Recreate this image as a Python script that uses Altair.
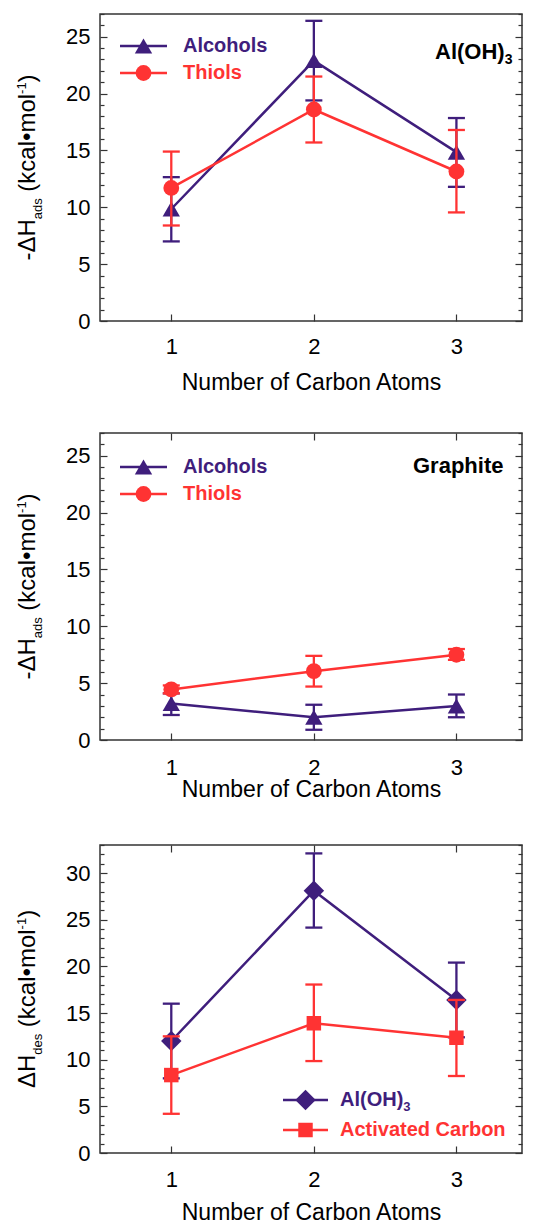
import altair as alt
import pandas as pd

FONT = "Liberation Sans"
PURPLE = "#3F1E7C"
RED = "#FF3333"
INK = "#333333"

# ---------------- data ----------------
carbon_atoms = [1, 2, 3]
x_ticks = [1, 2, 3]
x_title = "Number of Carbon Atoms"

# Panel 1: Al(OH)3, -dH_ads
p1_alcohols = [9.85, 22.9, 14.85]
p1_alcohols_lo = [7.0, 19.4, 11.8]
p1_alcohols_hi = [12.65, 26.4, 17.85]
p1_thiols = [11.7, 18.6, 13.15]
p1_thiols_lo = [8.4, 15.7, 9.55]
p1_thiols_hi = [14.9, 21.5, 16.8]

# Panel 2: Graphite, -dH_ads
p2_alcohols = [3.2, 2.0, 3.0]
p2_alcohols_lo = [2.2, 0.9, 2.0]
p2_alcohols_hi = [4.1, 3.1, 4.0]
p2_thiols = [4.45, 6.05, 7.5]
p2_thiols_lo = [4.1, 4.7, 7.05]
p2_thiols_hi = [4.8, 7.4, 8.0]

# Panel 3: dH_des
p3_aloh3 = [12.0, 28.1, 16.4]
p3_aloh3_lo = [8.0, 24.15, 12.4]
p3_aloh3_hi = [16.0, 32.1, 20.4]
p3_ac = [8.35, 13.9, 12.35]
p3_ac_lo = [4.2, 9.85, 8.25]
p3_ac_hi = [12.5, 18.05, 16.4]

# ---------------- helpers ----------------
W = 422
ONE = pd.DataFrame({"k": [0]})

# Arial / Liberation Sans advance widths (per 1000 em)
REG = {"-": 333, "Δ": 667, "H": 722, "a": 556, "d": 556, "s": 500, "e": 556,
       " ": 278, "(": 333, "k": 500, "c": 500, "l": 222, "•": 350, "m": 833,
       "o": 556, "1": 556, ")": 333}
BOLD = {"A": 722, "l": 278, "(": 333, "O": 778, "H": 722, ")": 333}


def tw(s, size, table):
    return sum(table[c] for c in s) * size / 1000.0


def frame(n, v, lo, hi, name):
    return pd.DataFrame({"n": n, "v": v, "lo": lo, "hi": hi, "s": name})


def text(t, x, y, size, color="black", bold=False, dx=0, dy=0, angle=0,
         align="left", baseline="middle"):
    kw = dict(text=t, font=FONT, fontSize=size, color=color,
              fontWeight="bold" if bold else "normal", dx=dx, dy=dy,
              align=align, baseline=baseline)
    if angle:
        kw["angle"] = angle
    return alt.Chart(ONE).mark_text(**kw).encode(x=alt.value(x), y=alt.value(y))


def ytitle(pieces, H):
    # pieces: list of (text, size, dy, gap_before)
    total = sum(tw(t, s, REG) + g for t, s, _, g in pieces)
    start = H / 2 + total / 2
    layers = []
    off = 0.0
    for t, s, dy, g in pieces:
        off += g
        layers.append(text(t, -65, start, s, dx=off, dy=dy, angle=270,
                           baseline="alphabetic"))
        off += tw(t, s, REG)
    return layers


def legend_row(label, color, shape, size, x0, x1, y, tx, tsize, sub=None):
    out = [
        alt.Chart(ONE).mark_rule(color=color, strokeWidth=2.5).encode(
            x=alt.value(x0), x2=alt.value(x1), y=alt.value(y)),
        alt.Chart(ONE).mark_point(shape=shape, size=size, filled=True,
                                  color=color, opacity=1).encode(
            x=alt.value((x0 + x1) / 2), y=alt.value(y)),
        text(label, tx, y, tsize, color=color, bold=True),
    ]
    if sub:
        out.append(text(sub, tx, y, tsize * 0.65, color=color, bold=True,
                        dx=tw(label, tsize, BOLD), dy=7))
    return out


def panel(H, ymax, series, legend_layers, tag_layers, title_layers,
          label_pad, title_pad, top_ticks):
    xs = alt.Scale(domain=[0.5, 3.46], nice=False, zero=False)
    ys = alt.Scale(domain=[0, ymax], nice=False, zero=False)
    y_major = list(range(0, ymax + 1, 5))
    y_all = list(range(0, ymax + 1))
    tsize = {"condition": {"test": "datum.value % 5 === 0", "value": 7},
             "value": 4}

    ax_x_lab = alt.Axis(orient="bottom", values=x_ticks, format="d", ticks=False,
                        tickSize=0, domain=False, grid=False, labelFont=FONT,
                        labelFontSize=22, labelColor="black",
                        labelPadding=label_pad, title=x_title, titleFont=FONT,
                        titleFontSize=23, titleFontWeight="normal",
                        titleColor="black", titlePadding=title_pad)
    ax_x_in_b = alt.Axis(orient="top", offset=-H, values=x_ticks, tickSize=7,
                         tickColor=INK, tickWidth=1.2, labels=False,
                         domain=False, grid=False, title=None)
    ax_x_in_t = alt.Axis(orient="bottom", offset=-H, values=x_ticks, tickSize=7,
                         tickColor=INK, tickWidth=1.2, labels=False,
                         domain=False, grid=False, title=None)
    ax_y_lab = alt.Axis(orient="left", values=y_major, ticks=False, tickSize=0,
                        domain=False, grid=False, labelFont=FONT,
                        labelFontSize=22, labelColor="black", labelPadding=10,
                        title=None)
    ax_y_in_l = alt.Axis(orient="right", offset=-W, values=y_all,
                         tickSize=tsize, tickColor=INK, tickWidth=1.2,
                         labels=False, domain=False, grid=False, title=None)
    ax_y_in_r = alt.Axis(orient="left", offset=-W, values=y_all,
                         tickSize=tsize, tickColor=INK, tickWidth=1.2,
                         labels=False, domain=False, grid=False, title=None)

    axes = [(ax_x_lab, ax_y_lab), (ax_x_in_b, ax_y_in_l),
            (ax_x_in_t if top_ticks else None, ax_y_in_r)]

    def ax(i):
        return axes[i] if i < len(axes) else (None, None)

    layers = []
    idx = 0
    for df, color, shape, psize in series:
        xa, ya = ax(idx)
        rule = alt.Chart(df).mark_rule(color=color, strokeWidth=2.3).encode(
            x=alt.X("n:Q", scale=xs, axis=xa),
            y=alt.Y("lo:Q", scale=ys, axis=ya), y2="hi:Q")
        idx += 1
        xa, ya = ax(idx)
        caps = alt.Chart(df).transform_fold(["lo", "hi"], as_=["w", "c"]).mark_tick(
            color=color, orient="horizontal", size=17, thickness=2.3,
            opacity=1).encode(
            x=alt.X("n:Q", scale=xs, axis=xa),
            y=alt.Y("c:Q", scale=ys, axis=ya))
        idx += 1
        xa, ya = ax(idx)
        line = alt.Chart(df).mark_line(color=color, strokeWidth=2.5).encode(
            x=alt.X("n:Q", scale=xs, axis=xa),
            y=alt.Y("v:Q", scale=ys, axis=ya))
        idx += 1
        pts = alt.Chart(df).mark_point(shape=shape, size=psize, filled=True,
                                       color=color, opacity=1).encode(
            x=alt.X("n:Q", scale=xs, axis=None),
            y=alt.Y("v:Q", scale=ys, axis=None))
        idx += 1
        layers += [rule, caps, line, pts]

    layers += legend_layers + tag_layers + title_layers
    return alt.layer(*layers).resolve_axis(x="independent", y="independent") \
        .properties(width=W, height=H)


# ---------------- panels ----------------
H1, H2, H3 = 307, 307, 308
SP = 278 * 24 / 1000.0

ads_title = [("-ΔH", 24, 0, 0), ("ads", 13, 7, 0), ("(kcal•mol", 24, 0, SP),
             ("-1", 13, -9, 0), (")", 24, 0, 0)]
des_title = [("ΔH", 24, 0, 0), ("des", 13, 7, 0), ("(kcal•mol", 24, 0, SP),
             ("-1", 13, -9, 0), (")", 24, 0, 0)]

TRI, CIR, DIA, SQU = 300, 250, 420, 210

s1 = [(frame(carbon_atoms, p1_alcohols, p1_alcohols_lo, p1_alcohols_hi, "Alcohols"),
       PURPLE, "triangle-up", TRI),
      (frame(carbon_atoms, p1_thiols, p1_thiols_lo, p1_thiols_hi, "Thiols"),
       RED, "circle", CIR)]
leg1 = legend_row("Alcohols", PURPLE, "triangle-up", TRI, 20, 67, 32, 83, 20) + \
       legend_row("Thiols", RED, "circle", CIR, 20, 67, 59, 83, 20)
tag1 = [text("Al(OH)", 335, 38, 22, bold=True),
        text("3", 335, 38, 14, bold=True, dx=tw("Al(OH)", 22, BOLD), dy=8)]
c1 = panel(H1, 27, s1, leg1, tag1, ytitle(ads_title, H1), 15, 14, False)

s2 = [(frame(carbon_atoms, p2_alcohols, p2_alcohols_lo, p2_alcohols_hi, "Alcohols"),
       PURPLE, "triangle-up", TRI),
      (frame(carbon_atoms, p2_thiols, p2_thiols_lo, p2_thiols_hi, "Thiols"),
       RED, "circle", CIR)]
leg2 = legend_row("Alcohols", PURPLE, "triangle-up", TRI, 20, 67, 34, 83, 20) + \
       legend_row("Thiols", RED, "circle", CIR, 20, 67, 61, 83, 20)
tag2 = [text("Graphite", 313, 33, 22, bold=True)]
c2 = panel(H2, 27, s2, leg2, tag2, ytitle(ads_title, H2), 17, 0, True)

s3 = [(frame(carbon_atoms, p3_aloh3, p3_aloh3_lo, p3_aloh3_hi, "Al(OH)3"),
       PURPLE, "diamond", DIA),
      (frame(carbon_atoms, p3_ac, p3_ac_lo, p3_ac_hi, "Activated Carbon"),
       RED, "square", SQU)]
leg3 = legend_row("Al(OH)", PURPLE, "diamond", DIA, 183, 228, 255, 240, 20, sub="3") + \
       legend_row("Activated Carbon", RED, "square", SQU, 183, 228, 285, 240, 20)
c3 = panel(H3, 33, s3, leg3, [], ytitle(des_title, H3), 16, 11, True)

chart = alt.vconcat(alt.vconcat(c1, c2, spacing=36), c3, spacing=41).properties(
    padding={"left": 7, "top": 4, "right": 2, "bottom": 0}
).configure_view(stroke=INK, strokeWidth=1.5)

chart.save("out.html", embed_options={"renderer": "svg", "actions": False})
